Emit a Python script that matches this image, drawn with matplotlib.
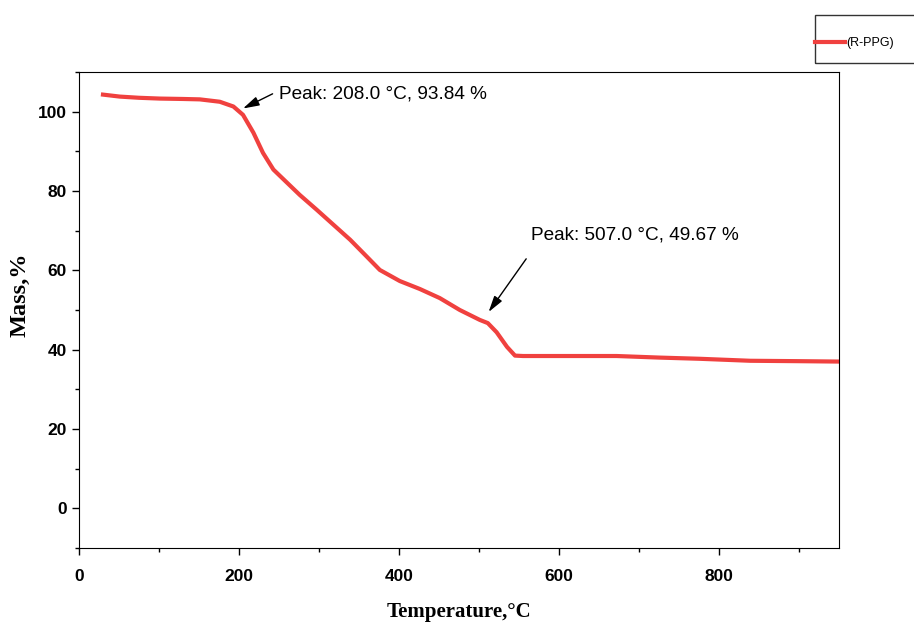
import matplotlib
matplotlib.use('Agg')
import matplotlib.pyplot as plt
from matplotlib.patches import Rectangle
from matplotlib.ticker import MultipleLocator

# TGA curve
temp = [30, 51, 75, 101, 130, 151, 176, 193, 205, 218, 230, 243, 260, 276, 297, 318,
        339, 360, 376, 401, 426, 451, 476, 501, 511, 522, 535, 545, 555, 601, 672,
        726, 776, 839, 900, 950]
mass = [104.3, 103.8, 103.5, 103.3, 103.2, 103.1, 102.5, 101.3, 99.2, 94.7, 89.6, 85.4,
        82.1, 79.0, 75.3, 71.5, 67.7, 63.4, 60.1, 57.3, 55.3, 53.0, 50.0, 47.5, 46.7,
        44.4, 40.7, 38.5, 38.4, 38.4, 38.4, 38.0, 37.7, 37.2, 37.1, 37.0]

# arrow head (x, y), arrow tail (x, y), label position (x, y), label
peaks = [((205, 100.8), (242, 104.5), (250, 104.5), 'Peak: 208.0 °C, 93.84 %'),
         ((512, 49.5), (559, 62.9), (565, 68.9), 'Peak: 507.0 °C, 49.67 %')]

fig = plt.figure(figsize=(9.14, 6.26), dpi=100)
ax = fig.add_axes([79/914, 1-548/626, 760/914, 476/626])

ax.plot(temp, mass, color='#f0413f', lw=3, label='(R-PPG)',
        solid_joinstyle='round')

ax.set_xlim(0, 950)
ax.set_ylim(-10, 110)
ax.xaxis.set_major_locator(MultipleLocator(200))
ax.xaxis.set_minor_locator(MultipleLocator(100))
ax.yaxis.set_major_locator(MultipleLocator(20))
ax.yaxis.set_minor_locator(MultipleLocator(10))
ax.tick_params(which='major', direction='out', length=5, width=1)
ax.tick_params(axis='x', which='major', pad=10)
ax.tick_params(axis='y', which='major', pad=4)
ax.tick_params(which='minor', direction='out', length=3, width=1)
for lab in ax.get_xticklabels() + ax.get_yticklabels():
    lab.set_fontfamily('Liberation Sans')
    lab.set_fontweight('bold')
    lab.set_fontsize(12.5)

ax.set_xlabel('Temperature,°C', family='Liberation Serif', fontweight='bold',
              fontsize=15)
ax.set_ylabel('Mass,%', family='Liberation Serif', fontweight='bold',
              fontsize=17.5)
ax.xaxis.set_label_coords(380/760, -54/476)
ax.yaxis.set_label_coords(-49/760, 253/476)

for head, tail, pos, txt in peaks:
    ax.annotate('', xy=head, xytext=tail,
                arrowprops=dict(arrowstyle='-|>,head_length=0.7,head_width=0.2',
                                color='black', lw=1, mutation_scale=14,
                                shrinkA=0, shrinkB=0))
    ax.text(pos[0], pos[1], txt, family='Liberation Sans', fontsize=13.7,
            va='center', ha='left')

# legend box, partly cut by the right edge like the original
fig.patches.append(Rectangle((815/914, 1-63/626), 120/914, 48/626,
                             transform=fig.transFigure, fill=False,
                             edgecolor='#333333', lw=1))
fig.legend(loc='center left', bbox_to_anchor=(815/914, 1-43/626),
           prop={'family': 'Liberation Sans', 'size': 9}, frameon=False,
           handlelength=2.4, handletextpad=0.1, borderpad=0, borderaxespad=0)

fig.savefig('out.png', dpi=100)
